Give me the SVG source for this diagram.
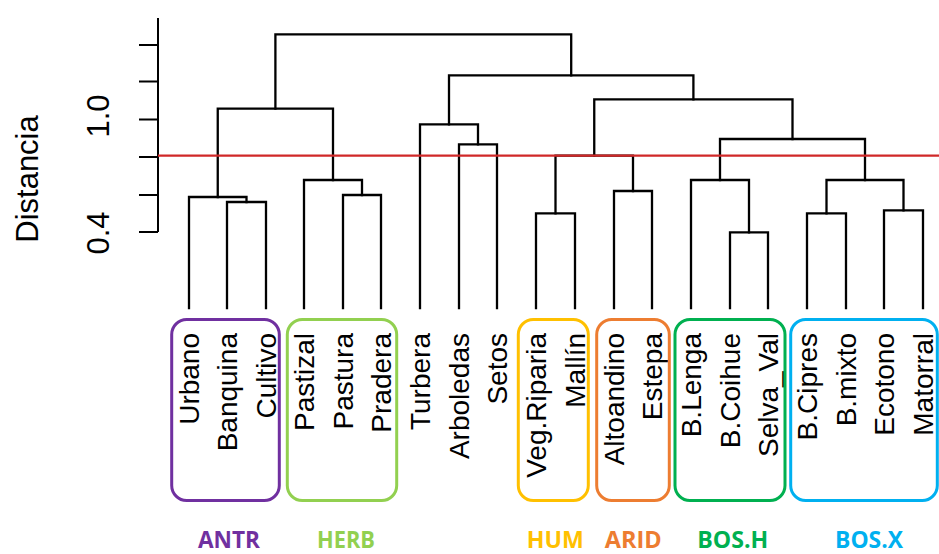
<svg xmlns="http://www.w3.org/2000/svg" width="939" height="554" viewBox="0 0 939 554">
<style>
.den{fill:none;stroke:#000;stroke-width:2.3;stroke-linecap:square;stroke-linejoin:miter}
.ax{fill:none;stroke:#000;stroke-width:2}
.cut{stroke:#d02828;stroke-width:2.2}
.leaf{font-family:"Liberation Sans",Arial,sans-serif;font-size:28px;fill:#000;text-anchor:end}
.axl{font-family:"Liberation Sans",Arial,sans-serif;font-size:31px;fill:#000;text-anchor:middle}
.box{fill:none;stroke-width:3}
.grp{font-family:"Open Sans","Liberation Sans",sans-serif;font-weight:bold;font-size:24px;text-anchor:middle}
</style>
<rect width="939" height="554" fill="#fff"/>
<g id="axis">
<path class="ax" d="M158 18V232M139 45H158M139 81.5H158M139 119.5H158M139 157H158M139 195H158M139 232H158"/>
<text class="axl" transform="translate(108.5 116) rotate(-90)">1.0</text>
<text class="axl" transform="translate(108.5 233) rotate(-90)">0.4</text>
<text class="axl" transform="translate(38 179) rotate(-90)">Distancia</text>
</g>
<g id="connectors">
<path class="den" d="M227 308V202H266V308"/>
<path class="den" d="M189 308V197H246.5V202"/>
<path class="den" d="M343 308V195H381V308"/>
<path class="den" d="M304 308V180H362V195"/>
<path class="den" d="M217.75 197V108.7H333V180"/>
<path class="den" d="M459 308V144.3H497V308"/>
<path class="den" d="M420 308V124.3H478V144.3"/>
<path class="den" d="M536 308V213.3H575V308"/>
<path class="den" d="M614 308V191H652V308"/>
<path class="den" d="M555.5 213.3V155.7H633V191"/>
<path class="den" d="M730 308V232.3H768V308"/>
<path class="den" d="M691 308V180H749V232.3"/>
<path class="den" d="M807 308V213.3H846V308"/>
<path class="den" d="M884 308V210.3H923V308"/>
<path class="den" d="M826.5 213.3V180H903.5V210.3"/>
<path class="den" d="M720 180V139H865V180"/>
<path class="den" d="M594.25 155.7V99.3H792.5V139"/>
<path class="den" d="M449 124.3V75.3H693.4V99.3"/>
<path class="den" d="M275.4 108.7V34.3H571.2V75.3"/>
<line class="cut" x1="158" y1="155.7" x2="939" y2="155.7"/>
</g>
<g id="leaves">
<g id="leaf-urbano"><text class="leaf" transform="translate(199 333) rotate(-90)">Urbano</text></g>
<g id="leaf-banquina"><text class="leaf" transform="translate(237 333) rotate(-90)">Banquina</text></g>
<g id="leaf-cultivo"><text class="leaf" transform="translate(276 333) rotate(-90)">Cultivo</text></g>
<g id="leaf-pastizal"><text class="leaf" transform="translate(314 333) rotate(-90)">Pastizal</text></g>
<g id="leaf-pastura"><text class="leaf" transform="translate(353 333) rotate(-90)">Pastura</text></g>
<g id="leaf-pradera"><text class="leaf" transform="translate(391 333) rotate(-90)">Pradera</text></g>
<g id="leaf-turbera"><text class="leaf" transform="translate(430 333) rotate(-90)">Turbera</text></g>
<g id="leaf-arboledas"><text class="leaf" transform="translate(469 333) rotate(-90)">Arboledas</text></g>
<g id="leaf-setos"><text class="leaf" transform="translate(507 333) rotate(-90)">Setos</text></g>
<g id="leaf-vegriparia"><text class="leaf" transform="translate(546 333) rotate(-90)">Veg.Riparia</text></g>
<g id="leaf-mallin"><text class="leaf" transform="translate(585 333) rotate(-90)">Mallín</text></g>
<g id="leaf-altoandino"><text class="leaf" transform="translate(624 333) rotate(-90)">Altoandino</text></g>
<g id="leaf-estepa"><text class="leaf" transform="translate(662 333) rotate(-90)">Estepa</text></g>
<g id="leaf-blenga"><text class="leaf" transform="translate(701 333) rotate(-90)">B.Lenga</text></g>
<g id="leaf-bcoihue"><text class="leaf" transform="translate(740 333) rotate(-90)">B.Coihue</text></g>
<g id="leaf-selvaval"><text class="leaf" transform="translate(778 333) rotate(-90)">Selva_Val</text></g>
<g id="leaf-bcipres"><text class="leaf" transform="translate(817 333) rotate(-90)">B.Cipres</text></g>
<g id="leaf-bmixto"><text class="leaf" transform="translate(856 333) rotate(-90)">B.mixto</text></g>
<g id="leaf-ecotono"><text class="leaf" transform="translate(894 333) rotate(-90)">Ecotono</text></g>
<g id="leaf-matorral"><text class="leaf" transform="translate(933 333) rotate(-90)">Matorral</text></g>
</g>
<g id="group-antr"><rect class="box" x="171.7" y="319.5" width="107.6" height="181" rx="15" stroke="#7030a0"/><text class="grp" x="229" y="548" fill="#7030a0" textLength="62" lengthAdjust="spacingAndGlyphs">ANTR</text></g>
<g id="group-herb"><rect class="box" x="287.3" y="319.5" width="109.4" height="181" rx="15" stroke="#92d050"/><text class="grp" x="346" y="548" fill="#92d050" textLength="58" lengthAdjust="spacingAndGlyphs">HERB</text></g>
<g id="group-hum"><rect class="box" x="518.3" y="319.5" width="70" height="181" rx="15" stroke="#ffc000"/><text class="grp" x="555.3" y="548" fill="#ffc000" textLength="57" lengthAdjust="spacingAndGlyphs">HUM</text></g>
<g id="group-arid"><rect class="box" x="596.7" y="319.5" width="72.6" height="181" rx="15" stroke="#ed7d31"/><text class="grp" x="633.3" y="548" fill="#ed7d31" textLength="57" lengthAdjust="spacingAndGlyphs">ARID</text></g>
<g id="group-bosh"><rect class="box" x="675" y="319.5" width="110" height="181" rx="15" stroke="#00b050"/><text class="grp" x="732.8" y="548" fill="#00b050" textLength="71" lengthAdjust="spacingAndGlyphs">BOS.H</text></g>
<g id="group-bosx"><rect class="box" x="790.7" y="319.5" width="146.6" height="181" rx="15" stroke="#00b0f0"/><text class="grp" x="869" y="548" fill="#00b0f0" textLength="68" lengthAdjust="spacingAndGlyphs">BOS.X</text></g>
</svg>
